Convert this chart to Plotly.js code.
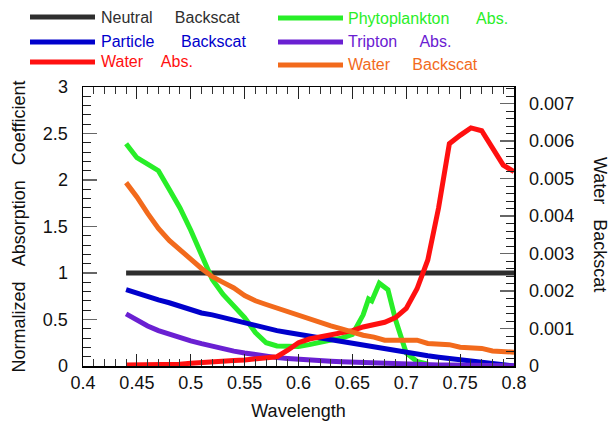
<!DOCTYPE html>
<html>
<head>
<meta charset="utf-8">
<script src="https://cdn.plot.ly/plotly-3.0.1.min.js"></script>
<style>html,body{margin:0;padding:0;background:#fff}#chart{width:613px;height:424px}</style>
</head>
<body>
<div id="chart"></div>
<script>
// ---- data ----
const wavelength = [0.44,0.45,0.46,0.47,0.48,0.49,0.50,0.51,0.52,0.53,0.54,0.55,0.56,0.57,0.58,0.59,0.60,0.61,0.62,0.63,0.64,0.65,0.66,0.67,0.68,0.69,0.70,0.71,0.72,0.73,0.74,0.75,0.76,0.77,0.78,0.79,0.80];
const neutralBackscat = wavelength.map(() => 1.0);
const particleBackscat = [0.82,0.78,0.75,0.71,0.68,0.64,0.60,0.57,0.55,0.52,0.49,0.46,0.43,0.40,0.38,0.36,0.34,0.32,0.30,0.28,0.26,0.24,0.22,0.205,0.19,0.17,0.15,0.13,0.11,0.095,0.08,0.065,0.05,0.035,0.02,0.01,0.0];
const waterAbs = [0.01,0.01,0.01,0.01,0.015,0.02,0.03,0.04,0.05,0.055,0.06,0.065,0.075,0.085,0.10,0.17,0.25,0.29,0.31,0.33,0.35,0.38,0.42,0.44,0.47,0.52,0.62,0.83,1.14,1.70,2.39,2.48,2.56,2.53,2.35,2.16,2.09];
const triptonAbs = [0.56,0.49,0.43,0.38,0.34,0.30,0.27,0.24,0.21,0.18,0.16,0.14,0.12,0.105,0.09,0.08,0.07,0.062,0.055,0.05,0.045,0.04,0.035,0.031,0.027,0.023,0.02,0.017,0.015,0.012,0.01,0.008,0.007,0.005,0.004,0.003,0.002];
const waterBackscat = [0.00489,0.00451,0.00407,0.00367,0.00335,0.00308,0.00285,0.00260,0.00238,0.00223,0.00208,0.00188,0.00174,0.00164,0.00154,0.00144,0.00136,0.00126,0.00117,0.00107,0.00099,0.00089,0.00082,0.00077,0.00069,0.00069,0.00069,0.00069,0.00060,0.00057,0.00057,0.00050,0.00047,0.00047,0.00040,0.00037,0.00037];
const phytoWavelength = [0.44,0.45,0.46,0.47,0.48,0.49,0.50,0.51,0.52,0.53,0.54,0.55,0.56,0.57,0.58,0.59,0.60,0.61,0.62,0.63,0.64,0.65,0.66,0.665,0.668,0.675,0.683,0.69,0.70,0.71,0.72];
const phytoAbs = [2.39,2.24,2.17,2.10,1.90,1.70,1.46,1.19,0.93,0.77,0.65,0.52,0.36,0.25,0.215,0.21,0.21,0.23,0.26,0.28,0.30,0.34,0.55,0.72,0.70,0.89,0.82,0.50,0.14,0.05,0.02];

const names = ['Neutral\u00a0\u00a0\u00a0\u00a0\u00a0Backscat','Particle\u00a0\u00a0\u00a0\u00a0\u00a0\u00a0Backscat','Water\u00a0\u00a0\u00a0\u00a0Abs.','Phytoplankton\u00a0\u00a0\u00a0\u00a0\u00a0\u00a0Abs.','Tripton\u00a0\u00a0\u00a0\u00a0\u00a0Abs.','Water\u00a0\u00a0\u00a0\u00a0\u00a0Backscat'];
const colors = ['#2e2e2e','#0000cc','#ff1010','#28ee28','#6a20d2','#f26a1c'];
const textColors = ['#2e2e2e','#0000cc','#ff1010','#28ee28','#6a20d2','#f26a1c'];

// ---- layout geometry ----
const W = 613, H = 424, L = 83, R = 514, T = 87, B = 366;
const px = v => (v - L) / (R - L);
const py = v => (B - v) / (B - T);
const FONT = 'Liberation Sans, Arial, Helvetica, sans-serif';

const lw = 5;
const traces = [
  {x: wavelength, y: neutralBackscat, name: names[0], line: {color: colors[0], width: lw}},
  {x: phytoWavelength, y: phytoAbs, name: names[3], line: {color: colors[3], width: lw}},
  {x: wavelength, y: particleBackscat, name: names[1], line: {color: colors[1], width: lw}},
  {x: wavelength, y: triptonAbs, name: names[4], line: {color: colors[4], width: lw}},
  {x: wavelength, y: waterAbs, name: names[2], line: {color: colors[2], width: lw}},
  {x: wavelength, y: waterBackscat, name: names[5], yaxis: 'y2', line: {color: colors[5], width: lw}}
].map(t => Object.assign({type: 'scatter', mode: 'lines', showlegend: false, hoverinfo: 'skip'}, t));

// custom legend (long line samples)
const legendPos = [
  {lx0: 30, lx1: 95, tx: 99, y: 17},
  {lx0: 30, lx1: 95, tx: 99, y: 42},
  {lx0: 30, lx1: 95, tx: 99, y: 62},
  {lx0: 278, lx1: 343, tx: 346, y: 18},
  {lx0: 278, lx1: 343, tx: 346, y: 42},
  {lx0: 278, lx1: 343, tx: 346, y: 65}
];
const shapes = [], annotations = [];
legendPos.forEach((p, i) => {
  shapes.push({type: 'line', xref: 'paper', yref: 'paper', x0: px(p.lx0), x1: px(p.lx1), y0: py(p.y), y1: py(p.y), line: {color: colors[i], width: 5}});
  annotations.push({xref: 'paper', yref: 'paper', x: px(p.tx), y: py(p.y), xanchor: 'left', yanchor: 'middle', showarrow: false, text: names[i], font: {family: FONT, size: 16, color: textColors[i]}});
});
annotations.push({xref: 'paper', yref: 'paper', x: px(600), y: py(224), xanchor: 'center', yanchor: 'middle', showarrow: false, textangle: 90, text: 'Water\u00a0\u00a0\u00a0Backscat', font: {family: FONT, size: 18, color: '#111'}});

const layout = {
  width: W, height: H,
  margin: {l: L, r: W - R, t: T, b: H - B, pad: 0},
  paper_bgcolor: '#fff', plot_bgcolor: '#fff',
  font: {family: FONT, size: 18, color: '#111'},
  showlegend: false,
  xaxis: {
    range: [0.4, 0.8], dtick: 0.05, tick0: 0.4, ticks: 'inside', ticklen: 12, tickwidth: 1.2, tickcolor: '#222',
    minor: {dtick: 0.01, ticks: 'inside', ticklen: 7, tickcolor: '#333', tickwidth: 1},
    showline: true, linecolor: '#000', linewidth: 1.5, mirror: 'ticks', showgrid: false, zeroline: false,
    tickfont: {family: FONT, size: 18, color: '#111'},
    title: {text: 'Wavelength', font: {family: FONT, size: 18, color: '#111'}, standoff: 12}
  },
  yaxis: {
    range: [0, 3], dtick: 0.5, ticks: 'inside', ticklen: 14, tickwidth: 1.2, tickcolor: '#666',
    minor: {dtick: 0.1, ticks: 'inside', ticklen: 8, tickcolor: '#222', tickwidth: 1},
    showline: true, linecolor: '#000', linewidth: 1.5, mirror: true, showgrid: false, zeroline: false,
    ticklabelstandoff: 10,
    tickfont: {family: FONT, size: 18, color: '#111'},
    title: {text: 'Normalized\u00a0\u00a0\u00a0Absorption\u00a0\u00a0\u00a0Coefficient', font: {family: FONT, size: 18, color: '#111'}, standoff: 12}
  },
  yaxis2: {
    overlaying: 'y', side: 'right', range: [0, 0.00744], dtick: 0.001, ticks: 'inside', ticklen: 14, tickwidth: 1.2, tickcolor: '#666',
    minor: {dtick: 0.0002, ticks: 'inside', ticklen: 8, tickcolor: '#222', tickwidth: 1},
    showline: true, linecolor: '#000', linewidth: 1.5, showgrid: false, zeroline: false,
    ticklabelstandoff: 10,
    tickfont: {family: FONT, size: 18, color: '#111'}
  },
  shapes: shapes,
  annotations: annotations
};

Plotly.newPlot('chart', traces, layout, {staticPlot: true, displayModeBar: false});
</script>
</body>
</html>
